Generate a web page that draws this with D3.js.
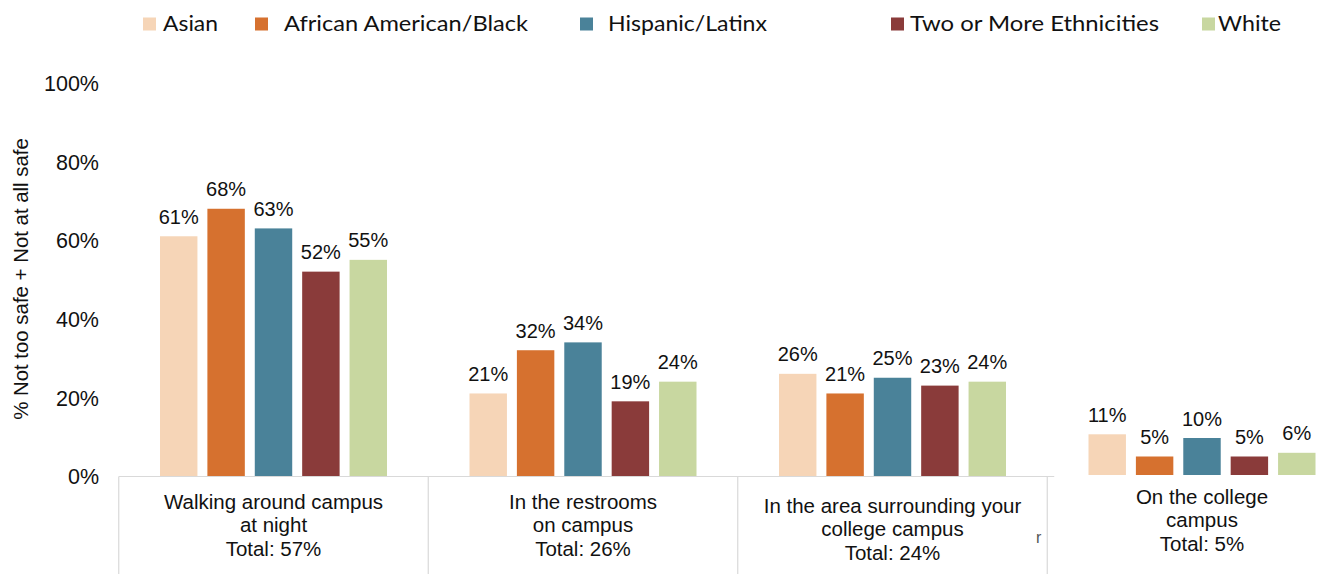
<!DOCTYPE html>
<html>
<head>
<meta charset="utf-8">
<script src="https://cdn.jsdelivr.net/npm/d3@7"></script>
<style>
  html, body { margin: 0; padding: 0; background: #fff; }
  svg { display: block; }
</style>
</head>
<body>
<svg id="chart" width="1325" height="574"></svg>
<script>
// ---- data ----
const categories = ["walk", "restroom", "surround", "campus"];
const categoryLines = [
  ["Walking around campus", "at night"],
  ["In the restrooms", "on campus"],
  ["In the area surrounding your", "college campus"],
  ["On the college", "campus"]
];
const totals = [57, 26, 24, 5];

const series = ["Asian", "African American/Black", "Hispanic/Latinx", "Two or More Ethnicities", "White"];
const asian           = [61, 21, 26, 11];
const africanAmerican = [68, 32, 21, 5];
const hispanic        = [63, 34, 25, 10];
const twoOrMore       = [52, 19, 23, 5];
const white           = [55, 24, 24, 6];
const seriesValues = [asian, africanAmerican, hispanic, twoOrMore, white];

const yTicks = [0, 20, 40, 60, 80, 100];
const yTitle = "% Not too safe + Not at all safe";

// ---- styling / layout ----
const colors = ["#f6d5b7", "#d6712f", "#4a8299", "#8a3b3a", "#c8d7a0"];
const legendLayout = [
  { sx: 143, tx: 163, w: 55 },
  { sx: 255, tx: 284, w: 244 },
  { sx: 580, tx: 608, w: 159 },
  { sx: 891, tx: 910, w: 249 },
  { sx: 1202, tx: 1218, w: 63 }
];
const labelTop = [509, 509, 513, 504];   // baseline of first label line per group
const numFont = "'Liberation Sans', Arial, Helvetica, sans-serif";

const svg = d3.select("#chart");

// scales
const x0 = d3.scaleBand().domain(categories).range([118.75, 1356.75]).padding(0);
const x1 = d3.scaleBand().domain(series).range([41.25, 268.25]).paddingInner(0.21).paddingOuter(0);
const y = d3.scaleLinear().domain([0, 100]).range([476, 83]);
// the last group sits in its own detached panel, drawn slightly smaller
const yPanel = d3.scaleLinear().domain([0, 100]).range([475, 105]);
const yFor = ci => ci === 3 ? yPanel : y;

// y axis (labels only)
const yAxis = svg.append("g")
  .attr("transform", "translate(99,0)")
  .call(d3.axisLeft(y).tickValues(yTicks).tickSize(0).tickPadding(0).tickFormat(d => d + "%"));
yAxis.select(".domain").remove();
yAxis.selectAll("text")
  .attr("font-family", numFont)
  .attr("font-size", 21.5)
  .attr("fill", "#111")
  .attr("dy", "0.36em");

svg.append("text")
  .attr("transform", "translate(28,279) rotate(-90)")
  .attr("text-anchor", "middle")
  .attr("font-family", numFont)
  .attr("font-size", 20.4)
  .attr("fill", "#111")
  .text(yTitle);

// category frame lines
const lineColor = "#d9d9d9";
const frame = svg.append("g").attr("stroke", lineColor).attr("stroke-width", 1.2);
frame.append("line")
  .attr("x1", x0(categories[0])).attr("x2", x0(categories[3]) + 7)
  .attr("y1", y(0) + 0.5).attr("y2", y(0) + 0.5);
categories.forEach(c => {
  frame.append("line")
    .attr("x1", x0(c)).attr("x2", x0(c))
    .attr("y1", y(0) + 0.5).attr("y2", 574);
});

// bars and value labels
const groups = svg.append("g").selectAll("g")
  .data(categories)
  .join("g")
  .attr("transform", d => `translate(${x0(d)},0)`);

groups.each(function(cat, ci) {
  const g = d3.select(this);
  const ys = yFor(ci);
  const items = series.map((s, si) => ({ s, si, v: seriesValues[si][ci] }));
  g.selectAll("rect")
    .data(items)
    .join("rect")
    .attr("x", d => x1(d.s))
    .attr("width", x1.bandwidth())
    .attr("y", d => ys(d.v))
    .attr("height", d => ys(0) - ys(d.v))
    .attr("fill", d => colors[d.si]);
  g.selectAll("text.val")
    .data(items)
    .join("text")
    .attr("class", "val")
    .attr("x", d => x1(d.s) + x1.bandwidth() / 2)
    .attr("y", d => ys(d.v) - 12.5)
    .attr("text-anchor", "middle")
    .attr("font-family", numFont)
    .attr("font-size", 20)
    .attr("fill", "#111")
    .text(d => d.v + "%");

  const cx = (x1.range()[0] + x1.range()[1]) / 2;
  const lines = categoryLines[ci].concat(["Total: " + totals[ci] + "%"]);
  g.selectAll("text.cat")
    .data(lines)
    .join("text")
    .attr("class", "cat")
    .attr("x", cx)
    .attr("y", (d, i) => labelTop[ci] + i * 23.3)
    .attr("text-anchor", "middle")
    .attr("font-family", numFont)
    .attr("font-size", 20.5)
    .attr("fill", "#111")
    .text(d => d);
});

// small stray mark beside the third group frame
svg.append("text")
  .attr("x", 1036).attr("y", 543)
  .attr("font-family", numFont)
  .attr("font-size", 16)
  .attr("fill", "#555")
  .text("r");

// legend
const legend = svg.append("g");
series.forEach((s, i) => {
  const L = legendLayout[i];
  legend.append("rect")
    .attr("x", L.sx).attr("y", 17.5)
    .attr("width", 13).attr("height", 13)
    .attr("fill", colors[i]);
  legend.append("text")
    .attr("x", L.tx).attr("y", 30.7)
    .attr("font-family", "Lato, 'Open Sans', sans-serif")
    .attr("font-size", 22)
    .attr("fill", "#111")
    .attr("textLength", L.w)
    .attr("lengthAdjust", "spacingAndGlyphs")
    .text(s);
});
</script>
</body>
</html>
